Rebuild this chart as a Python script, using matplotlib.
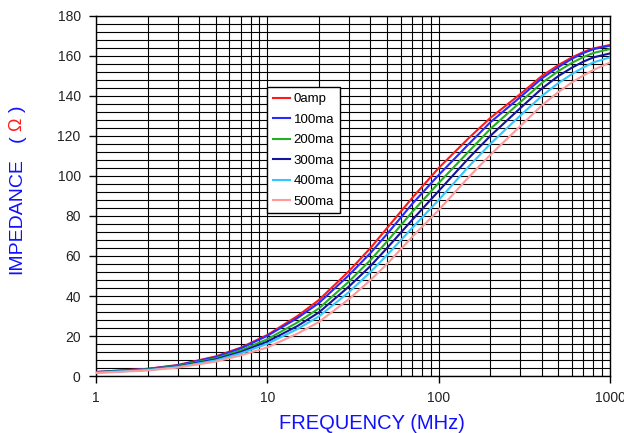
import matplotlib
matplotlib.use("Agg")
import matplotlib.pyplot as plt
from matplotlib.ticker import FixedLocator, NullFormatter

plt.rcParams["font.family"] = ["Liberation Sans", "DejaVu Sans"]

# impedance vs frequency
freq_mhz = [1, 2, 3, 5, 7, 10, 15, 20, 30, 40, 50, 70, 100, 150, 200, 300, 400, 500, 600, 700, 800, 1000]
z_0amp = [2.0, 3.6, 5.5, 9.8, 14.2, 20.5, 30, 38, 52.5, 64, 74, 89, 104, 119, 129, 141, 150, 155.5, 159.3, 162, 163.8, 165.5]
z_100ma = [2.0, 3.5, 5.3, 9.5, 13.8, 20.1, 29, 36.5, 50.5, 61.5, 71, 86, 100.5, 116, 126.8, 139.5, 148.8, 154.5, 158.6, 161.5, 163.4, 165.2]
z_200ma = [1.9, 3.3, 5.0, 8.8, 12.8, 18.4, 26.8, 33.8, 47.3, 58, 67.3, 82, 96.5, 112.3, 123.5, 137, 146.5, 152.5, 156.6, 159.5, 161.5, 163.5]
z_300ma = [1.8, 3.1, 4.7, 8.3, 12.0, 17.2, 25, 31.8, 44.8, 55, 64, 78, 92.5, 109, 120, 134, 143.7, 150, 154.2, 157.2, 159.3, 161.3]
z_400ma = [1.7, 3.0, 4.5, 7.8, 11.3, 16.1, 23.5, 29.8, 42, 52, 60.5, 74, 88, 104.8, 116, 130.3, 140, 146.5, 151, 154.3, 156.8, 159.3]
z_500ma = [1.5, 2.8, 4.2, 7.2, 10.3, 14.3, 21.2, 27, 38.5, 48, 56, 69.5, 83, 99.5, 110.5, 125, 135.3, 142, 146.8, 150.3, 153, 156.8]

labels = ["0amp", "100ma", "200ma", "300ma", "400ma", "500ma"]
colors = ["#ff1a1a", "#2a2aff", "#22b022", "#14149e", "#33c8ff", "#ff9a9a"]
series = [z_0amp, z_100ma, z_200ma, z_300ma, z_400ma, z_500ma]

fig = plt.figure(figsize=(6.24, 4.33), dpi=100)
ax = fig.add_axes([96 / 624, 1 - 376 / 433, 514 / 624, 360 / 433])

for z, c, lab in zip(series, colors, labels):
    ax.plot(freq_mhz, z, color=c, lw=1.5, label=lab, zorder=3)

ax.set_xscale("log")
ax.set_xlim(1, 1000)
ax.set_ylim(0, 180)

# grid: every 1-2-3..9 step on x, every 4 ohm on y
xgrid = [m * 10 ** d for d in range(3) for m in range(1, 10)] + [1000]
ax.xaxis.set_major_locator(FixedLocator([1, 10, 100, 1000]))
ax.xaxis.set_minor_locator(FixedLocator(xgrid))
ax.xaxis.set_minor_formatter(NullFormatter())
ax.set_xticklabels(["1", "10", "100", "1000"])
ax.yaxis.set_major_locator(FixedLocator(range(0, 181, 20)))
ax.yaxis.set_minor_locator(FixedLocator(range(0, 181, 4)))
ax.grid(which="both", color="black", lw=0.8)
ax.tick_params(which="minor", length=0)
ax.tick_params(which="major", length=5, width=1, direction="out",
               labelsize=10, labelcolor="#222222", pad=6)
for s in ax.spines.values():
    s.set_color("black")
    s.set_linewidth(1.0)

# the title sits a bit right of the axis centre in the original
ax.set_xlabel("FREQUENCY (MHz)", color="#1010ff", fontsize=14.5, labelpad=6,
              x=(371.5 - 96) / 514)

# y label: blue text with a red omega
fig.text(17 / 624, 1 - 216 / 433, "IMPEDANCE", color="#1010ff", fontsize=14,
         rotation=90, ha="center", va="center")
fig.text(17 / 624, 1 - 139 / 433, "(", color="#1010ff", fontsize=14,
         rotation=90, ha="center", va="center")
fig.text(17 / 624, 1 - 124 / 433, "Ω", color="#ff1a1a", fontsize=13,
         rotation=90, ha="center", va="center")
fig.text(17 / 624, 1 - 109 / 433, ")", color="#1010ff", fontsize=14,
         rotation=90, ha="center", va="center")

leg = ax.legend(loc="upper left", bbox_to_anchor=((266.7 - 96) / 514, (376 - 87.3) / 360),
                fontsize=9.5, frameon=True, fancybox=False, borderpad=0.45,
                handlelength=1.3, handletextpad=0.3, labelspacing=0.62,
                borderaxespad=0)
leg.get_frame().set_edgecolor("black")
leg.get_frame().set_linewidth(1.0)
leg.get_frame().set_alpha(1)
leg.set_zorder(5)

fig.savefig("out.png", dpi=100)
